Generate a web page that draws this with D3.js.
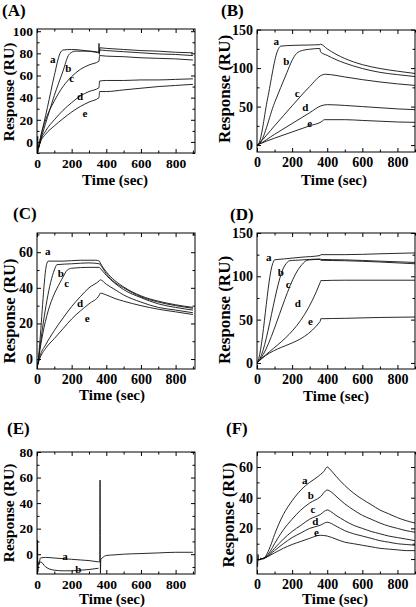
<!DOCTYPE html>
<html><head><meta charset="utf-8">
<script src="https://cdn.jsdelivr.net/npm/d3@7"></script>
<style>
body{margin:0;background:#fff}
svg{display:block}
text{font-family:"Liberation Serif","Times New Roman",serif;font-weight:bold;fill:#000}
</style>
</head><body><svg id="chart" width="416" height="607"></svg>
<script>
// ---------- data ----------
const curveNames = ["a","b","c","d","e"];
const xTickLabels = [0,200,400,600,800];
const xMinorTicks = [100,300,500,700,900];
const yTicksA = [0,20,40,60,80,100];
const yTicksB = [0,50,100,150];
const yTicksC = [0,20,40,60];
const yTicksD = [0,50,100,150];
const yTicksE = [0,20,40,60,80];
const yTicksF = [0,20,40,60];

// Panel A
const A_a = [[0,-2],[2,-10],[4,5],[6,-9],[8,-6],[20,3],[60,31],[100,60],[133,80],[150,83],[200,83.5],[250,83],[300,82],[340,81],[356,80.5],[358,89],[360,79],[363,85],[400,84.5],[500,83.5],[600,82.5],[700,82],[800,81],[900,80.5]];
const A_b = [[8,-6],[20,1],[60,22],[100,42],[150,64],[181,78],[200,81],[220,82],[300,82],[340,81.5],[358,81],[361,83],[400,82.5],[500,81.5],[600,80.5],[700,79.5],[800,79],[900,78]];
const A_c = [[8,-6],[20,4],[50,20],[100,37],[150,50],[200,59],[250,65.5],[300,69.5],[358,73],[361,78],[400,77.5],[500,77],[600,76],[700,75.5],[800,75],[900,74]];
const A_d = [[8,-6],[20,1],[50,10],[100,20],[150,28.5],[200,35.5],[250,41.5],[300,45.5],[358,49],[361,55],[400,55.5],[500,55.5],[600,56],[700,56],[800,56.5],[900,57]];
const A_e = [[8,-6],[20,0],[50,7],[100,14.5],[150,21],[200,27],[250,32],[300,36],[358,40],[361,45.5],[400,45.5],[500,47],[600,48.5],[700,50],[800,51],[900,52]];
const A_labels = [[91,74.6],[181,66.5],[200,56.8],[248,40.8],[277,25.8]];

// Panel B
const B_a = [[0,0],[10,2],[60,60],[120,124],[135,128.5],[200,129.5],[300,130],[358,130.5],[362,131],[400,125],[450,118],[500,112.5],[600,104.5],[700,99.5],[800,96],[900,93]];
const B_b = [[0,0],[10,1],[100,55],[170,94],[200,110],[225,119],[260,123],[300,124.5],[358,125.5],[362,121],[400,116.5],[450,111],[500,106.5],[600,99.5],[700,94.5],[800,91.5],[900,89]];
const B_c = [[0,0],[10,2],[100,25],[200,51],[300,76],[370,91],[390,92],[450,90.5],[500,88.5],[600,85],[700,82],[800,79.5],[900,77.5]];
const B_d = [[0,0],[10,1],[100,14],[200,28],[300,42],[365,51],[400,52.5],[500,51.5],[600,50],[700,48.5],[800,47],[900,46]];
const B_e = [[0,0],[10,1],[100,9],[200,17],[300,25],[365,30],[385,33],[500,33],[600,32],[700,31],[800,30],[900,29.5]];
const B_labels = [[110,134],[167,108],[229,67],[275,48],[300,27.4]];

// Panel C
const C_a = [[2,-4],[5,-3],[15,8],[55,53],[65,55],[150,55],[250,55.5],[340,55.5],[360,55],[365,54],[400,49],[450,44],[500,40.5],[600,35.5],[700,32.5],[800,30.5],[900,29]];
const C_b = [[5,-3],[15,5],[100,50],[115,53],[200,53.5],[300,54],[360,53.5],[365,53],[400,48],[450,43],[500,40],[600,35],[700,32],[800,30],[900,28.5]];
const C_c = [[5,-3],[15,4],[150,46],[175,50],[200,51],[300,51.5],[360,51.5],[365,51],[400,47],[450,42.5],[500,39],[600,34.5],[700,31],[800,29],[900,27.5]];
const C_d = [[5,-3],[15,1],[50,8],[100,16],[150,23],[200,29.5],[250,35],[300,40],[360,44],[365,44.5],[400,42],[450,39],[500,36],[600,32],[700,29],[800,27.5],[900,26]];
const C_e = [[5,-3],[15,0],[50,6],[100,11.5],[150,17],[200,22.5],[250,27],[300,31],[360,36],[365,37],[400,36],[450,34],[500,32.5],[600,30],[700,28],[800,26.5],[900,25]];
const C_labels = [[62,60.5],[137,48],[171,42.2],[248,31.1],[290,22.7]];

// Panel D
const D_a = [[0,0],[5,2],[90,115],[100,119],[150,120],[250,122],[360,124],[363,125],[500,125],[700,126],[900,127]];
const D_b = [[0,0],[5,1],[160,113],[185,118],[220,118.5],[300,119.5],[360,120],[363,119.5],[500,119],[700,117.5],[900,116]];
const D_c = [[0,0],[5,1],[250,112],[280,118],[300,119],[360,119.5],[363,118.5],[500,118],[700,116.5],[900,114.5]];
const D_d = [[0,0],[5,1],[360,93],[363,95],[500,95.5],[700,95.5],[900,95.5]];
const D_e = [[0,0],[5,1],[360,48],[363,51],[500,51.5],[700,52.5],[900,53]];
const D_labels = [[67,122],[135,104.5],[177,90.3],[233,68.4],[304,48]];

// Panel E
const E_start = [[0,8],[2,-15],[3,11],[5,-14],[8,-6],[12,-8]];
const E_a = [[12,-8],[20,-3],[50,-2.5],[100,-3],[150,-3.5],[200,-4],[250,-4.5],[300,-5],[355,-6]];
const E_b = [[12,-8],[20,-6],[50,-10],[100,-12.5],[150,-13],[200,-13],[250,-12.5],[300,-12],[355,-11]];
const E_spike = [[355,-6],[362,-6],[364,58],[366,-15],[368,-4]];
const E_after = [[368,-4],[380,-2.5],[400,-1],[450,-0.5],[500,0],[600,0.5],[700,1],[800,1.5],[900,1.5]];
const E_labels = [[162,-1.9],[238,-11.8]];

// Panel F
const F_a = [[0,0],[3,-5],[6,3],[10,-1],[20,0.5],[35,0],[50,2],[75,8],[100,16],[150,29],[200,38],[250,45],[300,50],[350,54],[360,55],[380,57],[400,60],[420,58],[450,54],[500,48],[550,43],[600,39],[650,35.5],[700,32],[750,29.5],[800,27],[850,25],[900,23.5]];
const F_b = [[20,0],[50,1.5],[75,5],[100,10],[150,19],[200,26],[250,32],[300,36.5],[360,40.5],[400,45],[420,44],[450,41],[500,36],[550,32],[600,28.5],[650,26],[700,23.5],[750,21.5],[800,20],[850,18.5],[900,17.5]];
const F_c = [[20,0],[50,1],[100,7],[150,13],[200,18],[250,22],[300,26],[360,29],[400,32],[420,31],[450,28.5],[500,25],[550,22],[600,20],[650,18],[700,16.5],[750,15],[800,14],[850,13],[900,12]];
const F_d = [[20,0],[50,1],[100,5.5],[150,10],[200,14],[250,17],[300,20],[360,22],[400,24],[450,21.5],[500,18.5],[550,16.5],[600,15],[650,13.5],[700,12],[750,11],[800,10],[850,9.5],[900,9]];
const F_e = [[20,0],[50,1],[100,4],[150,7],[200,9.5],[250,11.5],[300,13.5],[360,15.5],[400,15],[450,13],[500,11],[550,10],[600,9],[650,8],[700,7],[750,6.5],[800,6],[850,5.5],[900,5.5]];
const F_labels = [[272,51.4],[306,41],[319,32],[332,24.3],[338,17]];

// ---------- layout ----------
const panels = [
  {title:"(A)", tx:2, ty:15.5, box:[37,29,195,153], xd:[0,912], yd:[-10,102], yTicks:yTicksA, yMinorStep:10,
   curves:[A_a,A_b,A_c,A_d,A_e], labels:A_labels, names:curveNames, yTitle:[9,92,15.5], xTitle:[115,180,15], fs:13.5},
  {title:"(B)", tx:221, ty:15.5, box:[257,30,415,152], xd:[0,900], yd:[-9,149.5], yTicks:yTicksB, yMinorStep:25,
   curves:[B_a,B_b,B_c,B_d,B_e], labels:B_labels, names:curveNames, yTitle:[225,89,17], xTitle:[334,180,15], fs:14},
  {title:"(C)", tx:13, ty:219, box:[37,233,195,369], xd:[0,912], yd:[-5.6,70.8], yTicks:yTicksC, yMinorStep:10,
   curves:[C_a,C_b,C_c,C_d,C_e], labels:C_labels, names:curveNames, yTitle:[9.5,311,16.5], xTitle:[112,395,15], fs:14},
  {title:"(D)", tx:230, ty:220, box:[257,233,415,369], xd:[0,900], yd:[-7,150], yTicks:yTicksD, yMinorStep:25,
   curves:[D_a,D_b,D_c,D_d,D_e], labels:D_labels, names:curveNames, yTitle:[225,310,17], xTitle:[336,396,15], fs:14},
  {title:"(E)", tx:7, ty:434, box:[37,452,195,574], xd:[0,912], yd:[-15.5,80], yTicks:yTicksE, yMinorStep:10,
   curves:[E_start,E_a,E_b,E_spike,E_after], labels:E_labels, names:["a","b"], yTitle:[9,513,15.5], xTitle:[112,599,15], fs:13.5},
  {title:"(F)", tx:226, ty:434, box:[257,452,415,574], xd:[0,900], yd:[-9.75,69.8], yTicks:yTicksF, yMinorStep:10,
   curves:[F_a,F_b,F_c,F_d,F_e], labels:F_labels, names:curveNames, yTitle:[229,515,16.5], xTitle:[335,599,15], fs:14}
];

const svg = d3.select("#chart");

panels.forEach((p,i) => {
  const [L,T,R,B] = p.box;
  const x = d3.scaleLinear().domain(p.xd).range([L,R]);
  const y = d3.scaleLinear().domain(p.yd).range([B,T]);
  const g = svg.append("g");
  const cid = "clip"+i;
  g.append("clipPath").attr("id",cid).append("rect").attr("x",L).attr("y",T).attr("width",R-L).attr("height",B-T);

  const line = d3.line().x(d=>x(d[0])).y(d=>y(d[1])).curve(d3.curveMonotoneX);
  g.append("g").attr("clip-path",`url(#${cid})`)
    .selectAll("path").data(p.curves).join("path")
    .attr("d",line).attr("fill","none").attr("stroke","#111").attr("stroke-width",0.9);

  // curve labels
  g.selectAll("text.lbl").data(p.labels).join("text").attr("class","lbl")
    .attr("x",d=>x(d[0])).attr("y",d=>y(d[1])).attr("dy","0.3em")
    .attr("text-anchor","middle").attr("font-size",11)
    .text((d,j)=>p.names[j]);

  // frame
  g.append("rect").attr("x",L).attr("y",T).attr("width",R-L).attr("height",B-T)
    .attr("fill","none").attr("stroke","#000").attr("stroke-width",1);

  const yMinor = d3.range(Math.ceil(p.yd[0]/p.yMinorStep)*p.yMinorStep, p.yd[1], p.yMinorStep)
    .filter(v => !p.yTicks.includes(v));

  const style = sel => { sel.select(".domain").remove(); sel.selectAll("line").attr("stroke","#000"); sel.attr("font-family",null).attr("font-size",null); };

  // bottom
  g.append("g").attr("transform",`translate(0,${B})`)
    .call(d3.axisBottom(x).tickValues(xTickLabels).tickSize(-4).tickPadding(5)).call(style)
    .selectAll("text").attr("font-size",p.fs);
  g.append("g").attr("transform",`translate(0,${B})`)
    .call(d3.axisBottom(x).tickValues(xMinorTicks).tickSize(-2.5).tickFormat("")).call(style);
  // top
  g.append("g").attr("transform",`translate(0,${T})`)
    .call(d3.axisTop(x).tickValues(xTickLabels).tickSize(-4).tickFormat("")).call(style);
  g.append("g").attr("transform",`translate(0,${T})`)
    .call(d3.axisTop(x).tickValues(xMinorTicks).tickSize(-2.5).tickFormat("")).call(style);
  // left
  g.append("g").attr("transform",`translate(${L},0)`)
    .call(d3.axisLeft(y).tickValues(p.yTicks).tickSize(-4).tickPadding(4)).call(style)
    .selectAll("text").attr("font-size",p.fs);
  g.append("g").attr("transform",`translate(${L},0)`)
    .call(d3.axisLeft(y).tickValues(yMinor).tickSize(-2.5).tickFormat("")).call(style);
  // right
  g.append("g").attr("transform",`translate(${R},0)`)
    .call(d3.axisRight(y).tickValues(p.yTicks).tickSize(-4).tickFormat("")).call(style);
  g.append("g").attr("transform",`translate(${R},0)`)
    .call(d3.axisRight(y).tickValues(yMinor).tickSize(-2.5).tickFormat("")).call(style);

  // titles
  g.append("text").attr("x",p.tx).attr("y",p.ty).attr("font-size",17).text(p.title);
  g.append("text").attr("transform",`translate(${p.yTitle[0]},${p.yTitle[1]}) rotate(-90)`)
    .attr("text-anchor","middle").attr("dy","0.32em").attr("font-size",p.yTitle[2]).text("Response (RU)");
  g.append("text").attr("x",p.xTitle[0]).attr("y",p.xTitle[1]).attr("dy","0.3em")
    .attr("text-anchor","middle").attr("font-size",p.xTitle[2]).text("Time (sec)");
});
</script></body></html>
